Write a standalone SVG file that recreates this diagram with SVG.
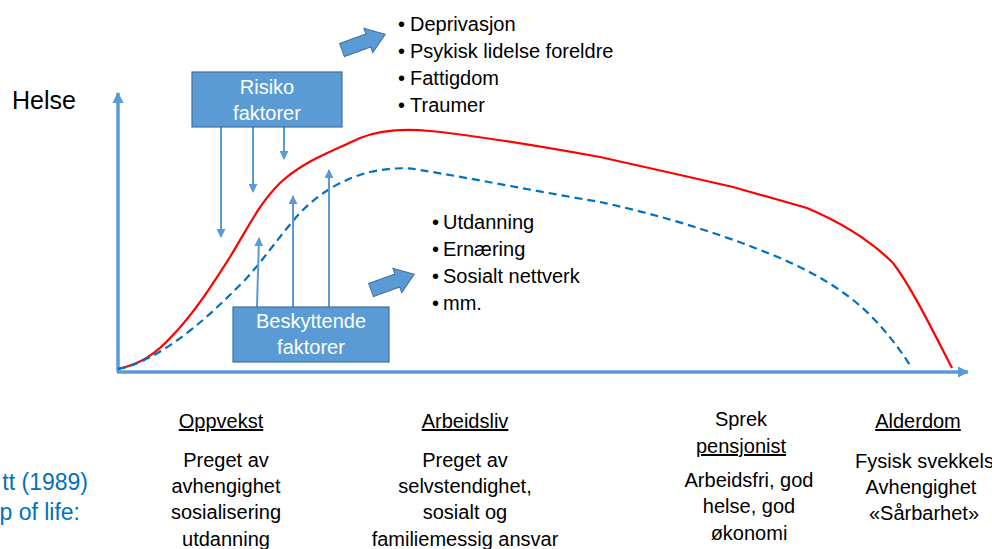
<svg xmlns="http://www.w3.org/2000/svg" width="992" height="549" viewBox="0 0 992 549">
<defs>
<style>
text{font-family:"Liberation Sans",Arial,sans-serif;fill:#000}
.t20{font-size:20px}
.mid{text-anchor:middle}
.box{fill:#5B9BD5;stroke:#41719C;stroke-width:1.2}
.boxt{font-size:20px;fill:#fff;text-anchor:middle}
.thin{stroke:#5B9BD5;stroke-width:2;fill:none}
.axis{stroke:#5B9BD5;stroke-width:3.5;fill:none}
.blk{fill:#5B9BD5;stroke:#41719C;stroke-width:1}
.ul{text-decoration:underline}
.cite{font-size:23px;fill:#0070C0;text-anchor:end}
</style>
<marker id="ah" viewBox="0 0 10 10" refX="9" refY="5" markerWidth="4.5" markerHeight="4.5" orient="auto" markerUnits="strokeWidth">
<path d="M0,0 L10,5 L0,10 z" fill="#5B9BD5"/>
</marker>
<marker id="axh" viewBox="0 0 10 10" refX="9" refY="5" markerWidth="3.2" markerHeight="3.2" orient="auto" markerUnits="strokeWidth">
<path d="M0,0 L10,5 L0,10 z" fill="#5B9BD5"/>
</marker>
<path id="barrow" d="M0,-7 L28,-7 L28,-13 L46,0 L28,13 L28,7 L0,7 z"/>
</defs>

<g id="axes">
<line class="axis" x1="118" y1="372" x2="118" y2="93" marker-end="url(#axh)"/>
<line class="axis" x1="117" y1="372" x2="968" y2="372" marker-end="url(#axh)"/>
</g>

<g id="curves">
<path d="M118,369 C140,364 155,355 173,335 C195,312 212,285 230,257 C248,228 258,205 280,183 C305,160 335,150 360,138 C385,128 410,129 430,131 C480,136 550,148 600,157 L667,172 L733,187 L807,208 C840,222 870,240 893,263 C910,285 930,325 952,368" fill="none" stroke="#FF0000" stroke-width="2.2"/>
<path d="M118,369 C140,365 165,350 187,333 C210,315 225,300 245,280 C265,258 280,235 300,213 C320,192 345,178 370,172 C390,168 405,167 420,170 C470,178 540,192 600,202 C660,215 720,233 780,258 C820,275 850,295 870,315 C888,333 900,350 912,368" fill="none" stroke="#0070C0" stroke-width="2.2" stroke-dasharray="8,5"/>
</g>

<g id="connectors">
<line class="thin" x1="221" y1="127" x2="221" y2="237" marker-end="url(#ah)"/>
<line class="thin" x1="253" y1="127" x2="253" y2="192" marker-end="url(#ah)"/>
<line class="thin" x1="284" y1="127" x2="284" y2="159" marker-end="url(#ah)"/>
<line class="thin" x1="257" y1="307" x2="259" y2="238" marker-end="url(#ah)"/>
<line class="thin" x1="293" y1="307" x2="293" y2="196" marker-end="url(#ah)"/>
<line class="thin" x1="329" y1="307" x2="329" y2="170" marker-end="url(#ah)"/>
<use href="#barrow" class="blk" transform="translate(342,50) rotate(-20)"/>
<use href="#barrow" class="blk" transform="translate(371,290) rotate(-20)"/>
</g>

<g id="helse">
<text x="12" y="109" font-size="25">Helse</text>
</g>

<g id="risiko">
<rect class="box" x="192" y="72" width="150" height="55"/>
<text class="boxt" x="267" y="94">Risiko</text>
<text class="boxt" x="267" y="120">faktorer</text>
</g>

<g id="beskyttende">
<rect class="box" x="233" y="307" width="156" height="55"/>
<text class="boxt" x="311" y="328">Beskyttende</text>
<text class="boxt" x="311" y="354">faktorer</text>
</g>

<g id="risk-list">
<text class="t20" x="398" y="31">•</text><text class="t20" x="410" y="31">Deprivasjon</text>
<text class="t20" x="398" y="58">•</text><text class="t20" x="410" y="58">Psykisk lidelse foreldre</text>
<text class="t20" x="398" y="85">•</text><text class="t20" x="410" y="85">Fattigdom</text>
<text class="t20" x="398" y="112">•</text><text class="t20" x="410" y="112">Traumer</text>
</g>

<g id="protect-list">
<text class="t20" x="432" y="229">•</text><text class="t20" x="443" y="229">Utdanning</text>
<text class="t20" x="432" y="256">•</text><text class="t20" x="443" y="256">Ernæring</text>
<text class="t20" x="432" y="283">•</text><text class="t20" x="443" y="283">Sosialt nettverk</text>
<text class="t20" x="432" y="310">•</text><text class="t20" x="443" y="310">mm.</text>
</g>

<g id="oppvekst">
<text class="t20 mid ul" x="221" y="428">Oppvekst</text>
<text class="t20 mid" x="226" y="467">Preget av</text>
<text class="t20 mid" x="226" y="493">avhengighet</text>
<text class="t20 mid" x="226" y="519">sosialisering</text>
<text class="t20 mid" x="226" y="546">utdanning</text>
</g>

<g id="arbeidsliv">
<text class="t20 mid ul" x="465" y="428">Arbeidsliv</text>
<text class="t20 mid" x="465" y="467">Preget av</text>
<text class="t20 mid" x="465" y="493">selvstendighet,</text>
<text class="t20 mid" x="465" y="519">sosialt og</text>
<text class="t20 mid" x="465" y="546">familiemessig ansvar</text>
</g>

<g id="pensjonist">
<text class="t20 mid" x="741" y="426">Sprek</text>
<text class="t20 mid ul" x="741" y="453">pensjonist</text>
<text class="t20 mid" x="749" y="487">Arbeidsfri, god</text>
<text class="t20 mid" x="749" y="513">helse, god</text>
<text class="t20 mid" x="749" y="540">økonomi</text>
</g>

<g id="alderdom">
<text class="t20 mid ul" x="918" y="428">Alderdom</text>
<text class="t20 mid" x="930" y="468">Fysisk svekkelse</text>
<text class="t20 mid" x="921" y="494">Avhengighet</text>
<text class="t20 mid" x="924" y="520">«Sårbarhet»</text>
</g>

<g id="citation">
<text class="cite" x="88" y="490">tt (1989)</text>
<text class="cite" x="80" y="520">p of life:</text>
</g>
</svg>
